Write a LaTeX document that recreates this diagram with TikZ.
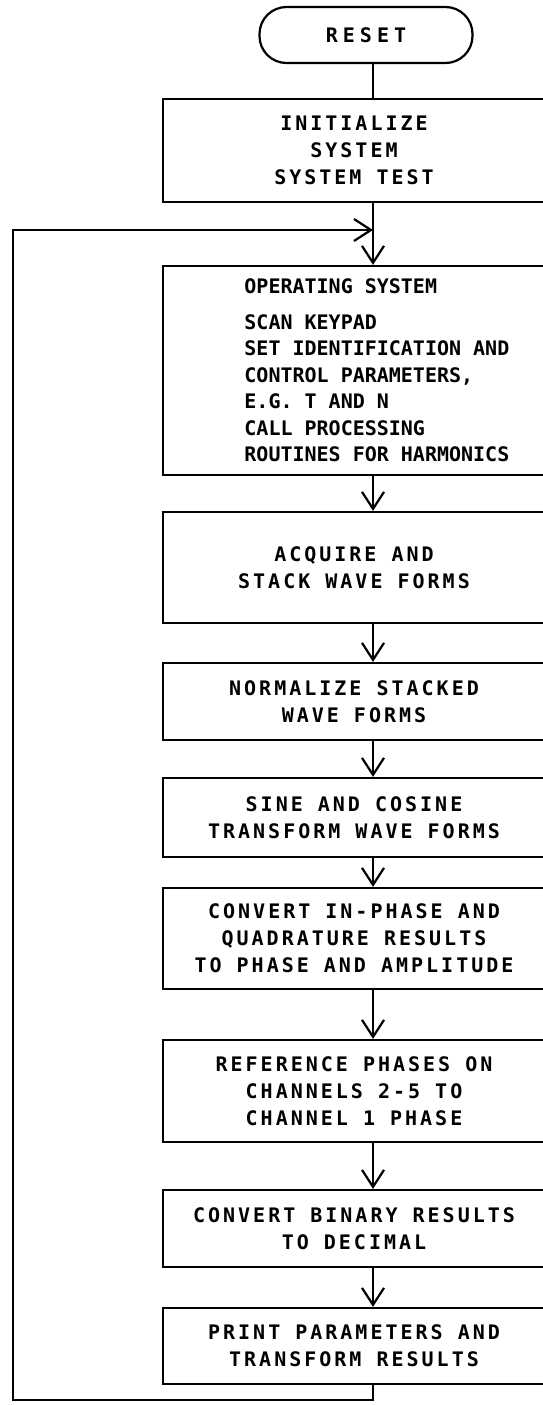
\documentclass[tikz,border=0pt]{standalone}
\usepackage{fontspec}
\usetikzlibrary{arrows.meta}
\newfontfamily\flowfont{DejaVu Sans Mono}[LetterSpace=15,UprightFont=* Bold]
\newfontfamily\resetfont{DejaVu Sans Mono}[LetterSpace=25,UprightFont=* Bold]
\newfontfamily\osfont{DejaVu Sans Mono}[UprightFont=* Bold]
\begin{document}
\begin{tikzpicture}
  [x=1pt,y=-1pt,line width=2.2pt,
   every node/.style={font=\flowfont\fontsize{20}{27}\selectfont,align=center},
   stepbox/.style={draw,minimum width=382pt,inner sep=0pt},
   flow/.style={-{Straight Barb[length=17pt,width=22pt]}}]
  \useasboundingbox (0,0) rectangle (543,1405);

  \coordinate (spine) at (373,0);
  \coordinate (join) at (373,230);
  \coordinate (loopleft) at (13,1400);

  \node[draw,rounded corners=27pt,minimum width=213pt,minimum height=56pt,
        font=\resetfont\fontsize{20}{27}\selectfont] (reset) at (366,35) {RESET};
  \node[stepbox,minimum height=103pt] (init) at (354,150.5)
    {INITIALIZE\\SYSTEM\\SYSTEM TEST};
  \node[stepbox,minimum height=209pt] (os) at (354,370.5) {};
  \node[anchor=west,align=left,font=\osfont\fontsize{20}{26.5}\selectfont] (ostext) at (240,370.5)
    {OPERATING SYSTEM\\[9pt]SCAN KEYPAD\\SET IDENTIFICATION AND\\CONTROL PARAMETERS,\\
     E.G. T AND N\\CALL PROCESSING\\ROUTINES FOR HARMONICS};
  \node[stepbox,minimum height=111pt] (acquire) at (354,567.5)
    {ACQUIRE AND\\STACK WAVE FORMS};
  \node[stepbox,minimum height=77pt] (normalize) at (354,701.5)
    {NORMALIZE STACKED\\WAVE FORMS};
  \node[stepbox,minimum height=79pt] (sine) at (354,817.5)
    {SINE AND COSINE\\TRANSFORM WAVE FORMS};
  \node[stepbox,minimum height=101pt] (convert) at (354,938.5)
    {CONVERT IN-PHASE AND\\QUADRATURE RESULTS\\TO PHASE AND AMPLITUDE};
  \node[stepbox,minimum height=102pt] (refphase) at (354,1091)
    {REFERENCE PHASES ON\\CHANNELS 2-5 TO\\CHANNEL 1 PHASE};
  \node[stepbox,minimum height=77pt] (binary) at (354,1228.5)
    {CONVERT BINARY RESULTS\\TO DECIMAL};
  \node[stepbox,minimum height=76pt] (print) at (354,1346)
    {PRINT PARAMETERS AND\\TRANSFORM RESULTS};

  \draw (reset.south -| spine) -- (init.north -| spine);
  \foreach \from/\to in {init/os,os/acquire,acquire/normalize,normalize/sine,
                         sine/convert,convert/refphase,refphase/binary,binary/print}
    \draw[flow] (\from.south -| spine) -- (\to.north -| spine);

  % return to operating system
  \draw[flow] (print.south -| spine) |- (loopleft) |- (join);
\end{tikzpicture}
\end{document}
